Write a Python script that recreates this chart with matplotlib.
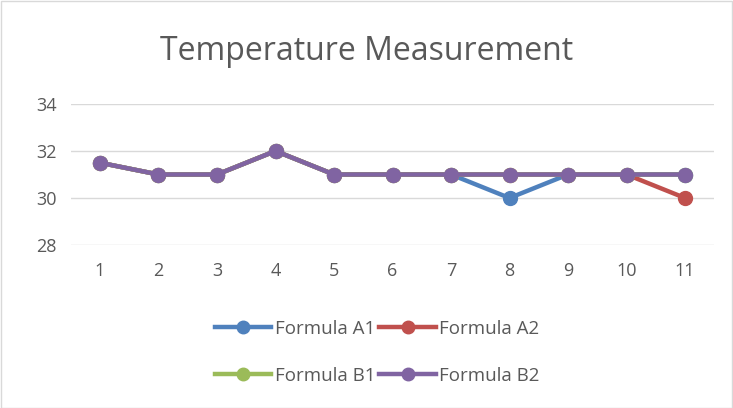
import matplotlib
matplotlib.use("Agg")
import matplotlib.pyplot as plt
from matplotlib.lines import Line2D

# data
categories = [1, 2, 3, 4, 5, 6, 7, 8, 9, 10, 11]
formula_a1 = [31.5, 31, 31, 32, 31, 31, 31, 30, 31, 31, 31]
formula_a2 = [31.5, 31, 31, 32, 31, 31, 31, 31, 31, 31, 30]
formula_b1 = [31.5, 31, 31, 32, 31, 31, 31, 31, 31, 31, 31]
formula_b2 = [31.5, 31, 31, 32, 31, 31, 31, 31, 31, 31, 31]
series_names = ["Formula A1", "Formula A2", "Formula B1", "Formula B2"]
colors = ["#4F81BD", "#C0504D", "#9BBB59", "#8064A2"]
y_ticks = [28, 30, 32, 34]

plt.rcParams['font.family'] = ['Open Sans', 'DejaVu Sans']
text_color = "#595959"

fig = plt.figure(figsize=(7.33, 4.08), dpi=100)
ax = fig.add_axes([0.0965, 0.3995, 0.878, 0.3456])

x = list(range(len(categories)))
for vals, name, c in zip([formula_a1, formula_a2, formula_b1, formula_b2], series_names, colors):
    ax.plot(x, vals, color=c, lw=3.2, marker='o', markersize=10, label=name,
            solid_capstyle='round')

ax.set_xlim(-0.5, len(categories) - 0.5)
ax.set_ylim(28, 34)
ax.set_yticks(y_ticks)
ax.set_xticks(x)
ax.set_xticklabels([str(c) for c in categories])
ax.grid(axis='y', color='#D9D9D9', lw=1)
ax.set_axisbelow(True)
for s in ax.spines.values():
    s.set_visible(False)
ax.tick_params(length=0, labelsize=13, colors=text_color, pad=12)
ax.tick_params(axis='y', pad=10)

fig.text(0.5, 0.873, "Temperature Measurement", ha='center', va='center',
         fontsize=23, color=text_color)

# legend filled row by row: A1 A2 / B1 B2 (ncol fills column-wise)
order = [0, 2, 1, 3]
handles = [Line2D([], [], color=colors[i], lw=3.2, marker='o', markersize=9)
           for i in order]
labels = [series_names[i] for i in order]
fig.legend(handles, labels, loc='center', bbox_to_anchor=(0.515, 0.137), ncol=2,
           frameon=False, fontsize=13.5, labelcolor=text_color, handlelength=3.0,
           columnspacing=0.2, handletextpad=0.2, labelspacing=1.55)

# outer chart border
fig.patches.append(plt.Rectangle((0.001, 0.001), 0.997, 0.997, transform=fig.transFigure,
                                 fill=False, edgecolor='#D9D9D9', lw=1))

fig.savefig("out.png", dpi=100)
